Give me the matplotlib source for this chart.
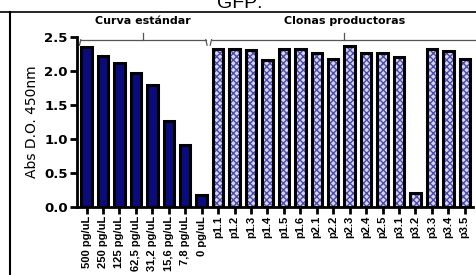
import matplotlib
matplotlib.use("Agg")
import matplotlib.pyplot as plt
import numpy as np

std_labels = ["500 pg/uL", "250 pg/uL", "125 pg/uL", "62,5 pg/uL", "31,2 pg/uL",
              "15,6 pg/uL", "7,8 pg/uL", "0 pg/uL"]
std_values = [2.36, 2.22, 2.12, 1.97, 1.80, 1.26, 0.91, 0.18]
clone_labels = ["p1.1", "p1.2", "p1.3", "p1.4", "p1.5", "p1.6", "p2.1", "p2.2",
                "p2.3", "p2.4", "p2.5", "p3.1", "p3.2", "p3.3", "p3.4", "p3.5"]
clone_values = [2.33, 2.33, 2.31, 2.16, 2.32, 2.32, 2.27, 2.18,
                2.37, 2.27, 2.27, 2.21, 0.21, 2.33, 2.29, 2.18]
yticks = [0.0, 0.5, 1.0, 1.5, 2.0, 2.5]

fig = plt.figure(figsize=(4.77, 2.75), dpi=100)
ax = fig.add_axes([77.5/477, 68/275, (473-77.5)/477, (207-37)/275])

xs_std = np.arange(len(std_values))
xs_cl = np.arange(len(clone_values)) + len(std_values)
w = 0.64
ax.bar(xs_std, std_values, width=w, color="#0b0b80", edgecolor="black", linewidth=2.2, zorder=2)
# hatched clone bars
ax.bar(xs_cl, clone_values, width=w, color="#d4d4f4", edgecolor="#4a4aa8", hatch="xxxxx", linewidth=0, zorder=2)
ax.bar(xs_cl, clone_values, width=w, color="none", edgecolor="black", linewidth=2.2, zorder=3)

ax.set_xlim(-0.55, len(std_values) + len(clone_values) - 0.5)
ax.set_ylim(0, 2.5)
ax.set_yticks(yticks)
ax.set_yticklabels([f"{v:.1f}" for v in yticks], fontsize=9.5, fontweight="bold", family="DejaVu Sans")
ax.set_xticks(np.concatenate([xs_std, xs_cl]))
ax.set_xticklabels(std_labels + clone_labels, rotation=90, fontsize=8,
                   fontweight="bold", family="Liberation Sans")
for s in ["top", "right"]:
    ax.spines[s].set_visible(False)
for s in ["left", "bottom"]:
    ax.spines[s].set_linewidth(2)
ax.tick_params(axis="both", width=2, length=5)
ax.tick_params(axis="y", pad=2)
ax.tick_params(axis="x", pad=1.5)
ax.set_ylabel("Abs D.O. 450nm", family="DejaVu Sans Condensed", fontsize=10, labelpad=4)

# group brackets
def bracket(x0, x1, label):
    yb = 2.46
    c = "#555555"
    ax.plot([x0, x1], [yb, yb], color=c, lw=0.9, clip_on=False)
    ax.plot([x0 - 0.08, x0], [yb - 0.08, yb], color=c, lw=0.9, clip_on=False)
    ax.plot([x1, x1 + 0.08], [yb, yb - 0.08], color=c, lw=0.9, clip_on=False)
    xm = (x0 + x1) / 2
    ax.plot([xm, xm], [yb, yb + 0.1], color=c, lw=0.9, clip_on=False)
    ax.text(xm, yb + 0.2, label, ha="center", va="bottom", fontsize=8,
            fontweight="bold", family="DejaVu Sans", clip_on=False)

bracket(-0.35, 7.25, "Curva estándar")
bracket(7.6, 23.75, "Clonas productoras")

# frame lines and clipped title
fig.add_artist(plt.Line2D([10/477, 10/477], [0, 1 - 12/275], color="black", lw=1.5, transform=fig.transFigure))
fig.add_artist(plt.Line2D([0, 476/477], [1 - 12/275, 1 - 12/275], color="black", lw=1.2, transform=fig.transFigure))
fig.text(240/477, 1 - 8/275, "GFP:", ha="center", va="baseline", fontsize=14, family="Liberation Sans")

fig.savefig("out.png", dpi=100)
